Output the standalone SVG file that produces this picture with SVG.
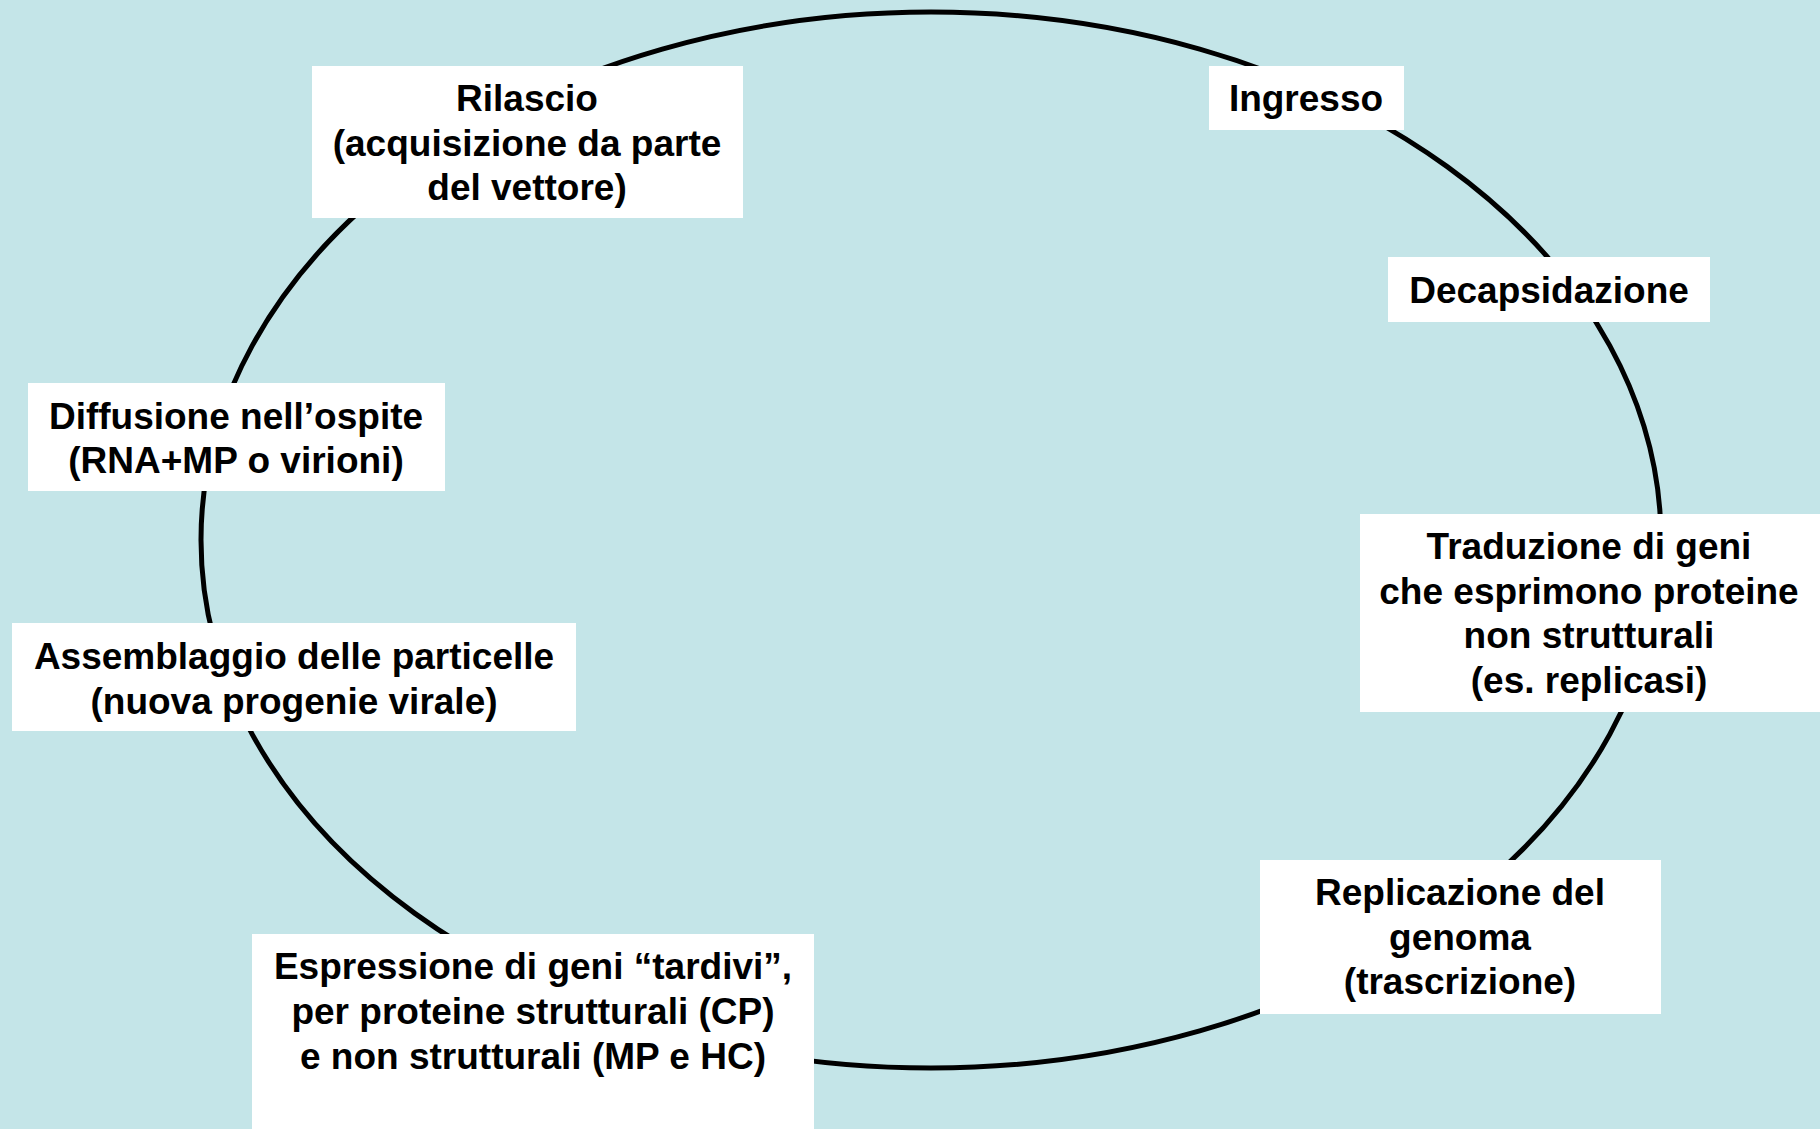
<svg xmlns="http://www.w3.org/2000/svg" width="1820" height="1129" viewBox="0 0 1820 1129">
<style>
.box{fill:#ffffff;stroke:none}
.t{font-family:"Liberation Sans",Arial,Helvetica,sans-serif;font-weight:bold;font-size:37px;fill:#000000;text-anchor:middle}
.cycle{fill:none;stroke:#000000;stroke-width:5}
</style>
<rect x="0" y="0" width="1820" height="1129" fill="#c4e5e8"/>
<g id="connectors">
<ellipse class="cycle" cx="931" cy="540" rx="730" ry="528"/>
</g>
<g id="rilascio">
<rect class="box" x="312" y="66" width="431" height="152"/>
<text class="t" x="527" y="111">Rilascio</text>
<text class="t" x="527" y="156">(acquisizione da parte</text>
<text class="t" x="527" y="200">del vettore)</text>
</g>
<g id="ingresso">
<rect class="box" x="1209" y="66" width="195" height="64"/>
<text class="t" x="1306" y="111">Ingresso</text>
</g>
<g id="decapsidazione">
<rect class="box" x="1388" y="257" width="322" height="65"/>
<text class="t" x="1549" y="303">Decapsidazione</text>
</g>
<g id="diffusione">
<rect class="box" x="28" y="383" width="417" height="108"/>
<text class="t" x="236" y="429">Diffusione nell’ospite</text>
<text class="t" x="236" y="473">(RNA+MP o virioni)</text>
</g>
<g id="traduzione">
<rect class="box" x="1360" y="514" width="460" height="198"/>
<text class="t" x="1589" y="559">Traduzione di geni</text>
<text class="t" x="1589" y="604">che esprimono proteine</text>
<text class="t" x="1589" y="648">non strutturali</text>
<text class="t" x="1589" y="693">(es. replicasi)</text>
</g>
<g id="assemblaggio">
<rect class="box" x="12" y="623" width="564" height="108"/>
<text class="t" x="294" y="669">Assemblaggio delle particelle</text>
<text class="t" x="294" y="714">(nuova progenie virale)</text>
</g>
<g id="replicazione">
<rect class="box" x="1260" y="860" width="401" height="154"/>
<text class="t" x="1460" y="905">Replicazione del</text>
<text class="t" x="1460" y="950">genoma</text>
<text class="t" x="1460" y="994">(trascrizione)</text>
</g>
<g id="espressione">
<rect class="box" x="252" y="934" width="562" height="195"/>
<text class="t" x="533" y="979">Espressione di geni “tardivi”,</text>
<text class="t" x="533" y="1024">per proteine strutturali (CP)</text>
<text class="t" x="533" y="1069">e non strutturali (MP e HC)</text>
</g>
</svg>
